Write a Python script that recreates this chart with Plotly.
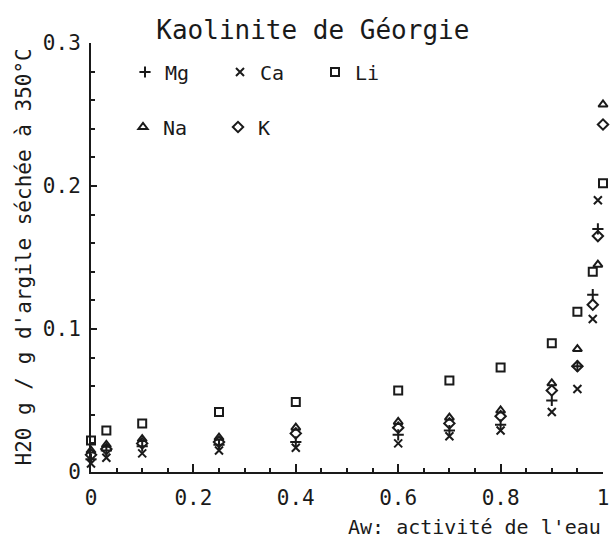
import plotly.graph_objects as go

# Water uptake of Georgia kaolinite exchanged with different cations
aw_mg = [0, 0.03, 0.1, 0.25, 0.4, 0.6, 0.7, 0.8, 0.9, 0.95, 0.98, 0.99]
h2o_mg = [0.009, 0.015, 0.018, 0.019, 0.021, 0.026, 0.029, 0.033, 0.050, 0.074, 0.124, 0.170]

aw_ca = [0, 0.03, 0.1, 0.25, 0.4, 0.6, 0.7, 0.8, 0.9, 0.95, 0.98, 0.99]
h2o_ca = [0.006, 0.010, 0.013, 0.015, 0.017, 0.020, 0.025, 0.029, 0.042, 0.058, 0.107, 0.190]

aw_li = [0, 0.03, 0.1, 0.25, 0.4, 0.6, 0.7, 0.8, 0.9, 0.95, 0.98, 1.0]
h2o_li = [0.022, 0.029, 0.034, 0.042, 0.049, 0.057, 0.064, 0.073, 0.090, 0.112, 0.140, 0.202]

aw_na = [0, 0.03, 0.1, 0.25, 0.4, 0.6, 0.7, 0.8, 0.9, 0.95, 0.99, 1.0]
h2o_na = [0.015, 0.019, 0.023, 0.024, 0.031, 0.035, 0.038, 0.043, 0.062, 0.086, 0.145, 0.257]

aw_k = [0, 0.03, 0.1, 0.25, 0.4, 0.6, 0.7, 0.8, 0.9, 0.95, 0.98, 0.99, 1.0]
h2o_k = [0.012, 0.016, 0.020, 0.021, 0.027, 0.031, 0.034, 0.039, 0.057, 0.074, 0.117, 0.165, 0.243]

INK = "#1a1a1a"
FONT = "DejaVu Sans Mono"

series = [
    ("Mg", aw_mg, h2o_mg, "cross-thin", 8, "legend"),
    ("Ca", aw_ca, h2o_ca, "x-thin", 8, "legend"),
    ("Li", aw_li, h2o_li, "square-open", 8, "legend"),
    ("Na", aw_na, h2o_na, "triangle-up-open", 8, "legend2"),
    ("K", aw_k, h2o_k, "diamond-open", 8, "legend2"),
]

fig = go.Figure()
for name, xs, ys, sym, size, leg in series:
    fig.add_trace(go.Scatter(
        x=xs, y=ys, mode="markers", name=name, legend=leg,
        cliponaxis=False,
        marker=dict(symbol=sym, size=size, color=INK,
                    line=dict(color=INK, width=2)),
    ))

legend_style = dict(
    orientation="h", xref="container", yref="container",
    xanchor="left", yanchor="middle",
    entrywidth=50, entrywidthmode="pixels",
    bgcolor="rgba(0,0,0,0)", borderwidth=0,
    font=dict(family=FONT, size=20, color=INK),
)

fig.update_layout(
    width=611, height=544,
    margin=dict(l=91, r=8, t=43, b=72, autoexpand=False),
    paper_bgcolor="white", plot_bgcolor="white",
    font=dict(family=FONT, color=INK),
    title=dict(text="Kaolinite de Géorgie", xref="container", yref="container",
               x=0.512, y=1 - 30 / 544, xanchor="center", yanchor="middle",
               font=dict(family=FONT, size=26, color=INK)),
    legend=dict(x=125 / 611, y=1 - 72 / 544, **legend_style),
    legend2=dict(x=123 / 611, y=1 - 127 / 544, **legend_style),
    xaxis=dict(
        range=[0, 1], dtick=0.2, tick0=0,
        showgrid=False, zeroline=False,
        showline=True, linecolor=INK, linewidth=2,
        ticks="inside", ticklen=8, tickwidth=2, tickcolor=INK,
        minor=dict(dtick=0.05, ticks="inside", ticklen=4, tickwidth=1.5, tickcolor=INK),
        ticklabelstandoff=6,
        tickfont=dict(family=FONT, size=21, color=INK),
    ),
    yaxis=dict(
        range=[0, 0.3], dtick=0.1, tick0=0,
        showgrid=False, zeroline=False,
        showline=True, linecolor=INK, linewidth=2,
        ticks="inside", ticklen=6, tickwidth=2, tickcolor=INK,
        minor=dict(dtick=0.02, ticks="inside", ticklen=4, tickwidth=1.5, tickcolor=INK),
        ticklabelstandoff=4,
        tickfont=dict(family=FONT, size=21, color=INK),
    ),
    annotations=[
        dict(text="H20 g / g d'argile séchée à 350°C", textangle=-90,
             xref="paper", yref="paper", x=-68 / 512, y=0.5,
             xanchor="center", yanchor="middle", showarrow=False,
             font=dict(family=FONT, size=21, color=INK)),
        dict(text="Aw: activité de l'eau",
             xref="paper", yref="paper", x=1.0, y=-55 / 429,
             xanchor="right", yanchor="middle", showarrow=False,
             font=dict(family=FONT, size=20, color=INK)),
    ],
    showlegend=True,
)

fig.write_html("out.html")
